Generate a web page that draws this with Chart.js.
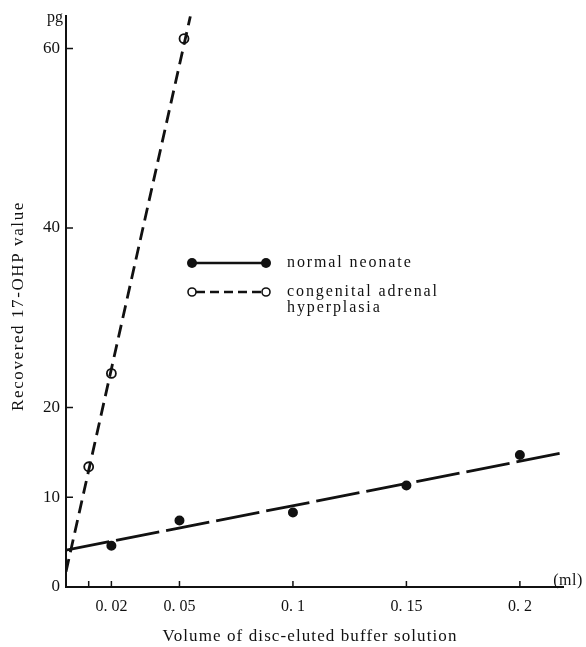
<!DOCTYPE html>
<html>
<head>
<meta charset="utf-8">
<script src="https://cdn.jsdelivr.net/npm/chart.js@4"></script>
<style>
  html, body { margin: 0; padding: 0; background: #fff; }
  #wrap { width: 586px; height: 647px; }
</style>
</head>
<body>
<div id="wrap"><canvas id="chart" width="586" height="647"></canvas></div>
<script>
// volume (ml) and recovered 17-OHP (pg)
const normalVolume = [0.02, 0.05, 0.1, 0.15, 0.2];
const normalValue = [4.6, 7.4, 8.3, 11.3, 14.7];
const cahVolume = [0.01, 0.02, 0.052];
const cahValue = [13.4, 23.8, 61.1];

// end points of the fitted lines
const normalFitVolume = [0, 0.218];
const normalFitValue = [4.1, 14.9];
const cahFitVolume = [0, 0.0548];
const cahFitValue = [1.7, 63.6];

const xTicks = [0.01, 0.02, 0.05, 0.1, 0.15, 0.2];
const xTickLabels = ["", "0. 02", "0. 05", "0. 1", "0. 15", "0. 2"];
const yTicks = [0, 10, 20, 40, 60];

const serif = "'Liberation Serif', 'DejaVu Serif', serif";
const ink = "#111";

const toPoints = (xs, ys) => xs.map((x, i) => ({ x: x, y: ys[i] }));

function spacedText(ctx, text, x, y, size, spacing, align) {
    ctx.save();
    ctx.font = size + "px " + serif;
    ctx.fillStyle = ink;
    ctx.letterSpacing = spacing + "px";
    ctx.textAlign = align || "left";
    ctx.textBaseline = "middle";
    ctx.fillText(text, x, y);
    ctx.restore();
}

// inward tick marks, axis units, titles and the legend
const decorations = {
    id: "decorations",
    afterDraw(chart) {
        const ctx = chart.ctx;
        const xs = chart.scales.x;
        const ys = chart.scales.y;
        const area = chart.chartArea;

        ctx.save();
        ctx.strokeStyle = ink;
        ctx.lineWidth = 1.5;
        xTicks.forEach(v => {
            const px = xs.getPixelForValue(v);
            ctx.beginPath();
            ctx.moveTo(px, area.bottom);
            ctx.lineTo(px, area.bottom - 6);
            ctx.stroke();
        });
        yTicks.filter(v => v > 0).forEach(v => {
            const py = ys.getPixelForValue(v);
            ctx.beginPath();
            ctx.moveTo(area.left, py);
            ctx.lineTo(area.left + 7, py);
            ctx.stroke();
        });
        ctx.restore();

        spacedText(ctx, "pg", 55, 18, 16, 0, "center");
        spacedText(ctx, "(ml)", 568, 581, 16, 0.5, "center");
        spacedText(ctx, "Volume of disc-eluted buffer solution", 310, 637, 17, 1.1, "center");

        ctx.save();
        ctx.translate(19, 306);
        ctx.rotate(-Math.PI / 2);
        spacedText(ctx, "Recovered 17-OHP value", 0, 0, 17, 1.6, "center");
        ctx.restore();

        // legend
        ctx.save();
        ctx.strokeStyle = ink;
        ctx.lineWidth = 2.5;
        ctx.beginPath();
        ctx.moveTo(192, 263);
        ctx.lineTo(266, 263);
        ctx.stroke();
        ctx.fillStyle = ink;
        [192, 266].forEach(cx => {
            ctx.beginPath();
            ctx.arc(cx, 263, 5, 0, Math.PI * 2);
            ctx.fill();
        });
        ctx.setLineDash([9, 5]);
        ctx.beginPath();
        ctx.moveTo(196, 292);
        ctx.lineTo(262, 292);
        ctx.stroke();
        ctx.setLineDash([]);
        ctx.lineWidth = 1.6;
        ctx.fillStyle = "#fff";
        [192, 266].forEach(cx => {
            ctx.beginPath();
            ctx.arc(cx, 292, 4, 0, Math.PI * 2);
            ctx.fill();
            ctx.stroke();
        });
        ctx.restore();
        spacedText(ctx, "normal neonate", 287, 263, 16, 1.9);
        spacedText(ctx, "congenital adrenal", 287, 292, 16, 1.9);
        spacedText(ctx, "hyperplasia", 287, 308, 16, 1.9);
    }
};

new Chart(document.getElementById("chart"), {
    type: "scatter",
    data: {
        datasets: [
            {
                label: "normal neonate fit",
                data: toPoints(normalFitVolume, normalFitValue),
                showLine: true,
                borderColor: ink,
                borderWidth: 2.8,
                borderDash: [44, 7],
                pointRadius: 0
            },
            {
                label: "congenital adrenal hyperplasia fit",
                data: toPoints(cahFitVolume, cahFitValue),
                showLine: true,
                borderColor: ink,
                borderWidth: 2.8,
                borderDash: [13, 7],
                pointRadius: 0
            },
            {
                label: "normal neonate",
                data: toPoints(normalVolume, normalValue),
                backgroundColor: ink,
                borderColor: "#fff",
                borderWidth: 2,
                pointRadius: 6
            },
            {
                label: "congenital adrenal hyperplasia",
                data: toPoints(cahVolume, cahValue),
                backgroundColor: "#fff",
                borderColor: ink,
                borderWidth: 1.8,
                pointRadius: 4.5
            }
        ]
    },
    options: {
        responsive: false,
        animation: false,
        events: [],
        layout: { padding: { left: 0, top: 15, right: 23, bottom: 0 } },
        plugins: {
            legend: { display: false },
            tooltip: { enabled: false }
        },
        scales: {
            x: {
                type: "linear",
                min: 0,
                max: 0.219,
                afterBuildTicks: scale => { scale.ticks = xTicks.map(v => ({ value: v })); },
                afterFit: scale => { scale.height = 60; },
                grid: { display: false, drawTicks: false },
                border: { display: true, color: ink, width: 2 },
                ticks: {
                    padding: 10,
                    color: ink,
                    font: { family: serif, size: 16 },
                    maxRotation: 0,
                    autoSkip: false,
                    callback: (v, i) => xTickLabels[i]
                }
            },
            y: {
                type: "linear",
                min: 0,
                max: 63.6,
                afterBuildTicks: scale => { scale.ticks = yTicks.map(v => ({ value: v })); },
                afterFit: scale => { scale.width = 66; },
                grid: { display: false, drawTicks: false },
                border: { display: true, color: ink, width: 2 },
                ticks: {
                    padding: 6,
                    color: ink,
                    font: { family: serif, size: 17 },
                    autoSkip: false
                }
            }
        }
    },
    plugins: [decorations]
});
</script>
</body>
</html>
